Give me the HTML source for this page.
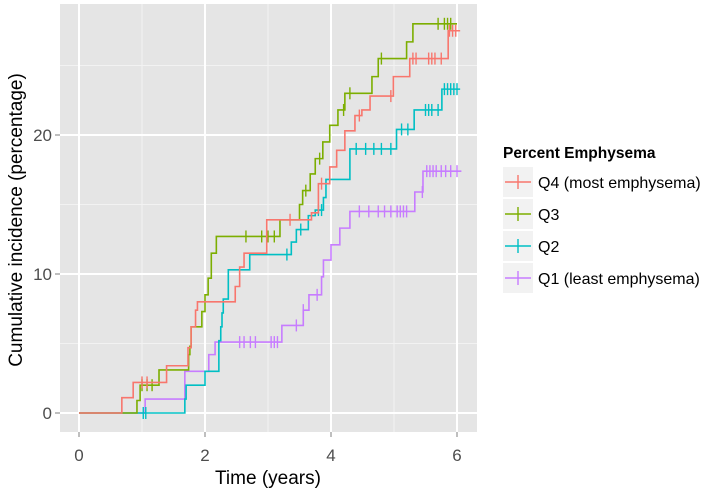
<!DOCTYPE html>
<html><head><meta charset="utf-8"><style>
body{margin:0;background:#fff;}
svg{display:block;font-family:"Liberation Sans",Arial,sans-serif;}
</style></head><body>
<svg id="chart" width="722" height="492" viewBox="0 0 722 492">
<rect x="60" y="4" width="417" height="428" fill="#E5E5E5"/>
<g id="grid"></g>
<g id="series"></g>
<g id="axes"></g>
<text x="268" y="484" font-size="19" text-anchor="middle" fill="#000">Time (years)</text>
<text transform="translate(22,220) rotate(-90)" font-size="19" text-anchor="middle" fill="#000">Cumulative incidence (percentage)</text>
<g id="legend">
<text x="503" y="158" font-size="15.5" font-weight="bold" fill="#000">Percent Emphysema</text>
</g>
</svg>
<script>
const seriesNames = ["Q4 (most emphysema)", "Q3", "Q2", "Q1 (least emphysema)"];
const seriesColors = ["#F8766D", "#7CAE00", "#00BFC4", "#C77CFF"];
const q4Times = [0, 0.68, 0.86, 1.39, 1.73, 1.78, 1.85, 1.88, 2.48, 2.55, 2.62, 2.98, 3.69, 3.8, 3.98, 4.09, 4.22, 4.38, 4.49, 4.62, 4.99, 5.25, 5.86];
const q4Values = [0, 1.1, 2.2, 3.4, 4.7, 6.2, 7.4, 8.0, 9.1, 10.5, 11.5, 13.9, 14.4, 16.5, 17.7, 18.9, 20.3, 21.4, 21.8, 22.8, 24.2, 25.5, 27.5];
const q4Censor = [1.0, 1.08, 3.35, 3.85, 4.45, 4.95, 5.3, 5.35, 5.55, 5.6, 5.65, 5.75, 5.88, 5.93, 5.98];
const q3Times = [0, 0.92, 0.97, 1.27, 1.74, 1.76, 1.78, 1.95, 2.0, 2.05, 2.1, 2.18, 3.19, 3.5, 3.55, 3.67, 3.75, 3.87, 3.98, 4.11, 4.22, 4.65, 4.75, 5.2, 5.3];
const q3Values = [0, 0.9, 2.0, 3.1, 4.2, 4.8, 6.2, 7.3, 8.5, 9.7, 11.5, 12.7, 13.9, 15.0, 16.0, 17.2, 18.3, 19.5, 20.7, 21.8, 23.0, 24.2, 25.5, 26.7, 28.0];
const q3Censor = [1.0, 1.08, 1.16, 2.65, 2.9, 3.0, 3.1, 3.6, 3.82, 4.2, 4.3, 4.8, 5.7, 5.8, 5.85, 5.9];
const q2Times = [0, 1.68, 1.7, 2.0, 2.22, 2.25, 2.27, 2.29, 2.37, 2.71, 3.37, 3.45, 3.64, 3.75, 3.88, 3.92, 4.3, 5.04, 5.32, 5.76];
const q2Values = [0, 1.0, 2.0, 3.0, 5.2, 6.2, 7.2, 8.2, 10.3, 11.4, 12.3, 13.2, 14.2, 14.6, 15.5, 16.8, 19.0, 20.4, 21.8, 23.3];
const q2Censor = [1.02, 1.06, 3.3, 3.52, 3.8, 3.85, 4.4, 4.55, 4.68, 4.8, 4.95, 5.12, 5.22, 5.5, 5.55, 5.6, 5.7, 5.8, 5.85, 5.9, 5.95, 6.0];
const q1Times = [0, 1.05, 1.68, 2.06, 2.16, 3.22, 3.56, 3.65, 3.85, 3.88, 4.0, 4.14, 4.3, 5.33, 5.46];
const q1Values = [0, 1.0, 3.0, 4.2, 5.1, 6.3, 7.4, 8.5, 9.8, 11.0, 12.1, 13.3, 14.5, 15.9, 17.4];
const q1Censor = [2.55, 2.62, 2.72, 2.8, 3.05, 3.1, 3.15, 3.45, 3.56, 3.78, 4.45, 4.6, 4.75, 4.85, 4.95, 5.05, 5.1, 5.15, 5.2, 5.45, 5.52, 5.57, 5.62, 5.67, 5.75, 5.82, 5.9, 6.0];
const endTimes = [6.05, 6.0, 6.05, 6.07];
const xTicks = [0, 2, 4, 6];
const yTicks = [0, 10, 20];
const xMinor = [1, 3, 5];
const yMinor = [5, 15, 25];

const NS = "http://www.w3.org/2000/svg";
const x = t => 79 + 63 * t;
const y = v => 413 - 13.9 * v;
function mk(tag, attrs, parent) {
  const e = document.createElementNS(NS, tag);
  for (const k in attrs) e.setAttribute(k, attrs[k]);
  parent.appendChild(e);
  return e;
}
const grid = document.getElementById("grid");
xMinor.forEach(t => { const l = mk("line", {x1: x(t), x2: x(t), y1: 4, y2: 432, stroke: "#F2F2F2", "stroke-width": 1}, grid);
  
   });
yMinor.forEach(v => { const l = mk("line", {x1: 60, x2: 477, y1: y(v), y2: y(v), stroke: "#F2F2F2", "stroke-width": 1}, grid);
  
   });
xTicks.forEach(t => { const l = mk("line", {x1: x(t), x2: x(t), y1: 4, y2: 432, stroke: "#fff", "stroke-width": 2}, grid);
  
   });
yTicks.forEach(v => { const l = mk("line", {x1: 60, x2: 477, y1: y(v), y2: y(v), stroke: "#fff", "stroke-width": 2}, grid);
  
   });

const axes = document.getElementById("axes");
xTicks.forEach(t => {
  const tk = mk("line", {x1: x(t), x2: x(t), y1: 432, y2: 437, stroke: "#7F7F7F", "stroke-width": 1}, axes);
  
  
  const tx = mk("text", {x: x(t), y: 461, "font-size": 17, "text-anchor": "middle", fill: "#4D4D4D"}, axes);
  tx.textContent = t;
  
  
});
yTicks.forEach(v => {
  const tk = mk("line", {x1: 55, x2: 60, y1: y(v), y2: y(v), stroke: "#7F7F7F", "stroke-width": 1}, axes);
  
  
  const tx = mk("text", {x: 52, y: y(v) + 6, "font-size": 17, "text-anchor": "end", fill: "#4D4D4D"}, axes);
  tx.textContent = v;
  
  
});

const allTimes = [q4Times, q3Times, q2Times, q1Times];
const allValues = [q4Values, q3Values, q2Values, q1Values];
const allCensor = [q4Censor, q3Censor, q2Censor, q1Censor];
const seriesG = document.getElementById("series");
function valAt(ts, vs, t) { let v = vs[0]; for (let i = 0; i < ts.length; i++) if (ts[i] <= t) v = vs[i]; return v; }
for (let s = 3; s >= 0; s--) {
  const ts = allTimes[s], vs = allValues[s];
  let d = "M" + x(ts[0]) + "," + y(vs[0]);
  for (let i = 1; i < ts.length; i++) d += " H" + x(ts[i]) + " V" + y(vs[i]);
  d += " H" + x(endTimes[s]);
  const g = mk("g", {}, seriesG);
  
  
  const p = mk("path", {d: d, fill: "none", stroke: seriesColors[s], "stroke-width": 1.6}, g);
  
  
  allCensor[s].forEach(t => {
    const v = valAt(ts, vs, t);
    const c = mk("line", {x1: x(t), x2: x(t), y1: y(v) - 6, y2: y(v) + 6, stroke: seriesColors[s], "stroke-width": 1.4}, g);
    
    
  });
}

const legend = document.getElementById("legend");
seriesNames.forEach((n, i) => {
  const cy = 182 + i * 32;
  const g = mk("g", {}, legend);
  
  
  mk("rect", {x: 503, y: cy - 15, width: 30, height: 30, fill: "#F2F2F2"}, g);
  mk("line", {x1: 505, x2: 531, y1: cy, y2: cy, stroke: seriesColors[i], "stroke-width": 1.6}, g);
  mk("line", {x1: 518, x2: 518, y1: cy - 7, y2: cy + 7, stroke: seriesColors[i], "stroke-width": 1.4}, g);
  const t = mk("text", {x: 538, y: cy + 6, "font-size": 16, fill: "#000"}, g);
  t.textContent = n;
  
  
});
</script>
</body></html>
